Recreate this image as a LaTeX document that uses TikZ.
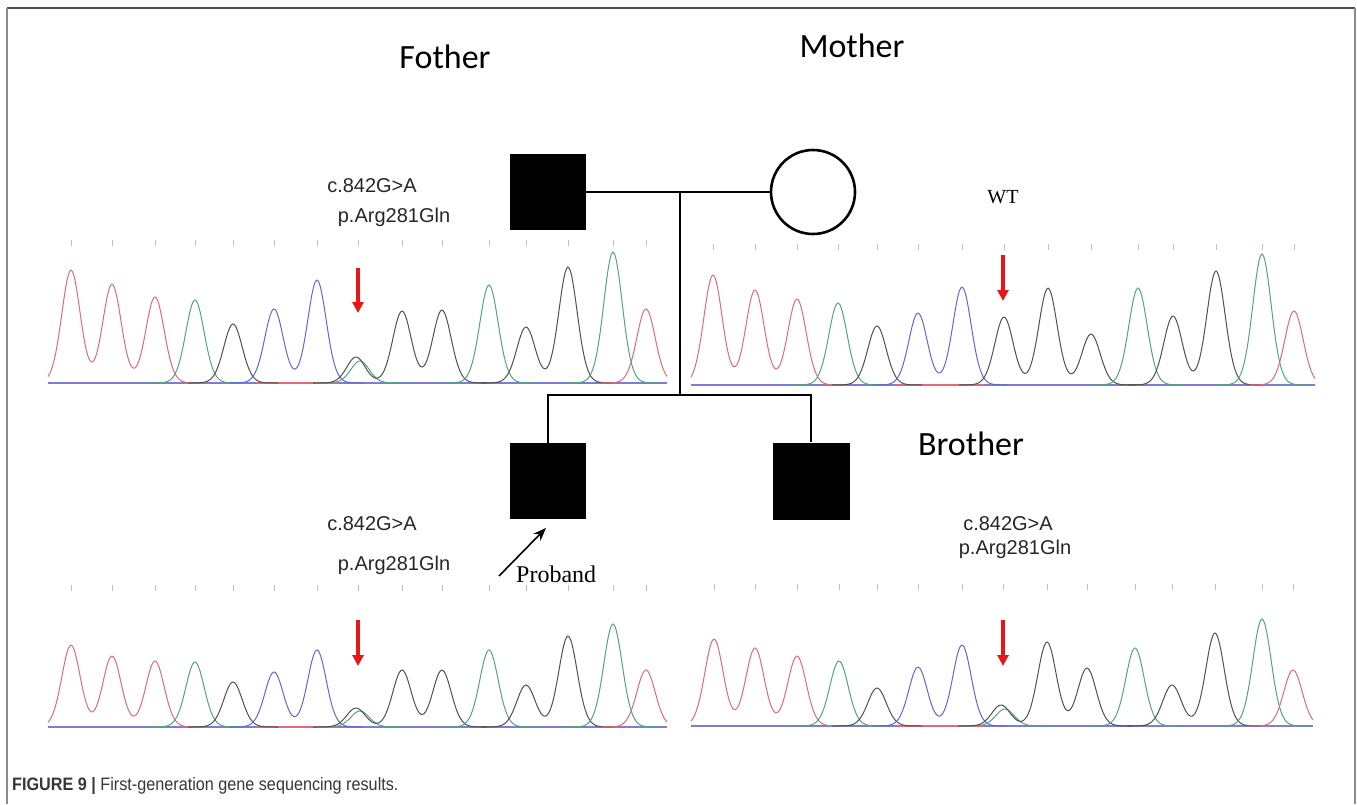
\documentclass[tikz,border=0pt]{standalone}
\usepackage{fontspec}
\usetikzlibrary{arrows.meta}
\newfontfamily\labfont{Carlito}
\newfontfamily\mutfont{Liberation Sans}
\newfontfamily\serfont{Liberation Serif}
\newfontfamily\capfont[FakeStretch=0.9]{Liberation Sans}

\definecolor{trRed}{RGB}{225,105,122}
\definecolor{trGreen}{RGB}{80,165,130}
\definecolor{trBlack}{RGB}{80,80,80}
\definecolor{trBlue}{RGB}{100,100,218}
\definecolor{baseBlue}{RGB}{125,125,210}
\definecolor{mutArrow}{RGB}{232,22,22}
\definecolor{capGray}{RGB}{55,55,55}

% one sequencing peak (near-Gaussian): centre #1, height #2 (in px)
\newcommand\pk[2]{#2*(1/(1+(((\x-#1)/13)^2)/16))^16}
% one trace channel: colour, baseline y, from x, to x, sum of peaks
\newcommand\trace[5]{\draw[trc,#1] plot[domain=#3:#4,samples=120] (\x,{#2-(#5)});}

\tikzset{
  trc/.style={line width=1.0pt, line join=round},
  tickmark/.style={draw=gray!50, line width=0.9pt},
  baseln/.style={draw=baseBlue, line width=1.2pt},
  ped/.style={line width=2.6pt, line join=miter},
  sqnode/.style={rectangle, fill=black, minimum size=76pt, inner sep=0pt},
  circnode/.style={circle, draw=black, line width=2.6pt, fill=white, minimum size=84pt, inner sep=0pt},
  who/.style={inner sep=0pt, anchor=base, font=\labfont\fontsize{34}{40}\selectfont},
  mut/.style={inner sep=0pt, anchor=base, text=black!85, font=\mutfont\fontsize{20}{24}\selectfont},
  mutarrow/.style={draw=mutArrow, line width=3.4pt, -{Triangle[width=11pt,length=11pt]}},
}

\begin{document}
\begin{tikzpicture}[x=1pt, y=-1pt]
\useasboundingbox (0,0) rectangle (1357,804);

% frame
\draw[draw=black!70, line width=1.5pt] (7,8) -- (1355,8);
\draw[draw=black!45, line width=1.5pt] (7,8) -- (7,804);
\draw[draw=black!45, line width=1.5pt] (1355,8) -- (1355,804);

% ---------- chromatogram: father ----------
\draw[baseln] (48,383) -- (667,383);
\draw[draw=trRed, line width=1.2pt] (256,383) -- (339,383);
\foreach \t in {71,112,155,195,233,274,317,358,402,442,489,526,568,613,646}
  \draw[tickmark] (\t,240) -- (\t,246);
\trace{trRed}{383}{48}{200}{\pk{71}{113}+\pk{112}{99}+\pk{155}{86}}
\trace{trGreen}{383}{150}{240}{\pk{195}{83}}
\trace{trBlack}{383}{188}{278}{\pk{233}{59}}
\trace{trBlue}{383}{229}{362}{\pk{274}{74}+\pk{317}{103}}
\trace{trGreen}{383}{313}{403}{\pk{360}{22}}
\trace{trBlack}{383}{313}{487}{\pk{356}{26}+\pk{402}{72}+\pk{442}{73}}
\trace{trGreen}{383}{444}{534}{\pk{489}{98}}
\trace{trBlack}{383}{481}{613}{\pk{526}{56}+\pk{568}{116}}
\trace{trGreen}{383}{568}{658}{\pk{613}{131}}
\trace{trRed}{383}{601}{667}{\pk{646}{74}}
\coordinate (faA) at (358,268);
\coordinate (faB) at (358,313);
\draw[mutarrow] (faA) -- (faB);

% ---------- chromatogram: mother ----------
\draw[baseln] (691,385) -- (1315,385);
\draw[draw=trRed, line width=1.2pt] (897,385) -- (984,385);
\foreach \t in {713,755,797,838,877,918,962,1004,1048,1091,1138,1173,1216,1262,1294}
  \draw[tickmark] (\t,244) -- (\t,250);
\trace{trRed}{385}{691}{842}{\pk{713}{110}+\pk{755}{95}+\pk{797}{86}}
\trace{trGreen}{385}{793}{883}{\pk{838}{82}}
\trace{trBlack}{385}{832}{922}{\pk{877}{59}}
\trace{trBlue}{385}{873}{1007}{\pk{918}{72}+\pk{962}{98}}
\trace{trBlack}{385}{959}{1136}{\pk{1004}{68}+\pk{1048}{97}+\pk{1091}{51}}
\trace{trGreen}{385}{1093}{1183}{\pk{1138}{97}}
\trace{trBlack}{385}{1128}{1261}{\pk{1173}{69}+\pk{1216}{114}}
\trace{trGreen}{385}{1217}{1307}{\pk{1262}{131}}
\trace{trRed}{385}{1249}{1315}{\pk{1294}{74}}
\coordinate (moA) at (1003,255);
\coordinate (moB) at (1003,301);
\draw[mutarrow] (moA) -- (moB);

% ---------- chromatogram: proband ----------
\draw[baseln] (48,727) -- (667,727);
\draw[draw=trRed, line width=1.2pt] (256,727) -- (339,727);
\foreach \t in {71,112,155,195,233,274,317,358,402,442,489,526,568,613,646}
  \draw[tickmark] (\t,585) -- (\t,591);
\trace{trRed}{727}{48}{200}{\pk{71}{82}+\pk{112}{71}+\pk{155}{66}}
\trace{trGreen}{727}{150}{240}{\pk{195}{65}}
\trace{trBlack}{727}{188}{278}{\pk{233}{45}}
\trace{trBlue}{727}{229}{362}{\pk{274}{55}+\pk{317}{77}}
\trace{trGreen}{727}{313}{403}{\pk{360}{16}}
\trace{trBlack}{727}{313}{487}{\pk{356}{19}+\pk{402}{57}+\pk{442}{57}}
\trace{trGreen}{727}{444}{534}{\pk{489}{77}}
\trace{trBlack}{727}{481}{613}{\pk{526}{42}+\pk{568}{91}}
\trace{trGreen}{727}{568}{658}{\pk{613}{103}}
\trace{trRed}{727}{601}{667}{\pk{646}{57}}
\coordinate (pbA) at (358,620);
\coordinate (pbB) at (358,666);
\draw[mutarrow] (pbA) -- (pbB);

% ---------- chromatogram: brother ----------
\draw[baseln] (691,726) -- (1313,726);
\draw[draw=trRed, line width=1.2pt] (897,726) -- (984,726);
\foreach \t in {714,755,797,839,877,918,962,1003,1047,1087,1135,1172,1215,1262,1293}
  \draw[tickmark] (\t,584) -- (\t,590);
\trace{trRed}{726}{691}{842}{\pk{714}{87}+\pk{755}{78}+\pk{797}{70}}
\trace{trGreen}{726}{794}{884}{\pk{839}{65}}
\trace{trBlack}{726}{832}{922}{\pk{877}{38}}
\trace{trBlue}{726}{873}{1007}{\pk{918}{59}+\pk{962}{81}}
\trace{trGreen}{726}{958}{1048}{\pk{1005}{17}}
\trace{trBlack}{726}{958}{1132}{\pk{1001}{21}+\pk{1047}{84}+\pk{1087}{58}}
\trace{trGreen}{726}{1090}{1180}{\pk{1135}{78}}
\trace{trBlack}{726}{1127}{1260}{\pk{1172}{41}+\pk{1215}{93}}
\trace{trGreen}{726}{1217}{1307}{\pk{1262}{107}}
\trace{trRed}{726}{1248}{1313}{\pk{1293}{56}}
\coordinate (brA) at (1003,620);
\coordinate (brB) at (1003,666);
\draw[mutarrow] (brA) -- (brB);

% ---------- pedigree ----------
\node[sqnode] (fa) at (548,192) {};
\node[circnode] (mo) at (813,192) {};
\node[sqnode] (pb) at (548,481) {};
\node[sqnode, minimum size=77pt] (br) at (811,481) {};
\coordinate (mid) at (680,192);
\coordinate (sibL) at (548,395);
\coordinate (sibR) at (811,395);
\draw[ped] (fa.east) -- (mo.west);
\draw[ped] (mid) -- (mid |- sibL);
\draw[ped] (pb.north) -- (sibL) -- (sibR) -- (br.north);

% proband marker
\node[inner sep=0pt, anchor=base west, font=\serfont\fontsize{24}{28}\selectfont] (pbl) at (516,582) {Proband};
\coordinate (prT) at (499,576);
\coordinate (prH) at (546,528);
\draw[line width=1.6pt, -{Stealth[length=13pt,width=10pt]}] (prT) -- (prH);

% ---------- labels ----------
\node[who] (lfa) at (445,68) {Fother};
\node[who] (lmo) at (852,57) {Mother};
\node[who] (lbr) at (971,455) {Brother};

\node[mut] (fa1) at (372,192) {c.842G>A};
\node[mut] (fa2) at (394,222) {p.Arg281Gln};
\node[inner sep=0pt, anchor=base, font=\serfont\fontsize{20}{24}\selectfont] (wt) at (1003,203) {WT};
\node[mut] (pb1) at (372,530) {c.842G>A};
\node[mut] (pb2) at (394,570) {p.Arg281Gln};
\node[mut] (br1) at (1008,530) {c.842G>A};
\node[mut] (br2) at (1015,554) {p.Arg281Gln};

% caption
\node[inner sep=0pt, anchor=base west, text=capGray, font=\capfont\fontsize{18}{22}\selectfont] (cap) at (12,790)
  {\bfseries FIGURE 9 |\mdseries\ First-generation gene sequencing results.};
\end{tikzpicture}
\end{document}
